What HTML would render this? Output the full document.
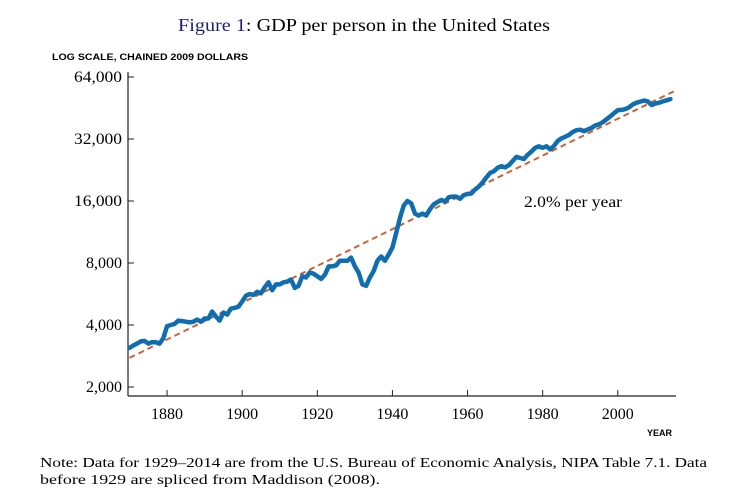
<!DOCTYPE html>
<html><head><meta charset="utf-8"><style>
body{margin:0;background:#fff;width:742px;height:497px;overflow:hidden;font-family:"Liberation Serif",serif}
svg{position:absolute;left:0;top:0}
</style></head><body>
<svg width="742" height="497" id="chart">
<text x="178" y="31" textLength="372" lengthAdjust="spacingAndGlyphs" font-size="18" font-family="Liberation Serif"><tspan fill="#1f1f6e">Figure 1</tspan>: GDP per person in the United States</text>
<text x="52" y="60" textLength="196" lengthAdjust="spacingAndGlyphs" font-size="9.5" font-weight="bold" font-family="Liberation Sans">LOG SCALE, CHAINED 2009 DOLLARS</text>
<text x="672" y="436" text-anchor="end" font-size="9" font-weight="bold" font-family="Liberation Sans">YEAR</text>
<text x="524" y="207" textLength="98" lengthAdjust="spacingAndGlyphs" font-size="16">2.0% per year</text>
<text x="40" y="467" textLength="667" lengthAdjust="spacingAndGlyphs" font-size="14">Note:  Data for 1929–2014 are from the U.S. Bureau of Economic Analysis, NIPA Table 7.1.  Data</text>
<text x="40" y="484" textLength="340" lengthAdjust="spacingAndGlyphs" font-size="14">before 1929 are spliced from Maddison (2008).</text>
<g id="axes"></g><g id="marks"></g>
</svg>
<script>
const yTicks=[2000,4000,8000,16000,32000,64000];
const yTickLabels=["2,000","4,000","8,000","16,000","32,000","64,000"];
const xTicks=[1880,1900,1920,1940,1960,1980,2000];
const years=[];for(let y=1870;y<=2014;y++)years.push(y);
const gdp=[3100,3180,3250,3330,3350,3250,3300,3300,3250,3450,3950,4000,4050,4200,4180,4150,4120,4150,4250,4150,4300,4300,4650,4400,4200,4600,4500,4800,4850,4900,5200,5550,5650,5600,5800,5700,6100,6450,5900,6300,6300,6450,6500,6650,6050,6200,6900,6800,7200,7100,6900,6700,7000,7700,7700,7800,8200,8200,8200,8500,7700,7200,6300,6200,6800,7300,8200,8600,8200,8800,9500,11200,13200,15200,16000,15600,13900,13600,13900,13600,14600,15400,15800,16200,15900,16700,16800,16800,16400,17100,17300,17400,18200,18800,19700,20800,21900,22300,23200,23600,23300,23900,25000,26200,25900,25600,26800,27800,29000,29500,29000,29500,28500,29600,31300,32200,32800,33500,34600,35300,35500,34900,35600,36200,37200,37700,38600,39900,41200,42700,44200,44300,44700,45600,47100,48000,48600,49200,48700,46800,47600,48000,48700,49300,50000];
const trendYears=[1870,2015];
const trendValues=[2770,54600];
const X=y=>128+(y-1869.6)*3.756;
const Y=v=>387-62*Math.log2(v/2000);
const ns="http://www.w3.org/2000/svg";
const ax=document.getElementById('axes'),mk=document.getElementById('marks');
function el(t,a,p){const e=document.createElementNS(ns,t);for(const k in a)e.setAttribute(k,a[k]);p.appendChild(e);return e;}
const yl=el('line',{x1:128,y1:72,x2:128,y2:396,stroke:'#222','stroke-width':1.2},ax);


const xl=el('line',{x1:128,y1:396,x2:676,y2:396,stroke:'#222','stroke-width':1.2},ax);


yTicks.forEach((v,i)=>{
 const t=el('line',{x1:128,x2:134,y1:Y(v),y2:Y(v),stroke:'#222'},ax);
 
 
 const tx=el('text',{x:122,y:Y(v)+5,'text-anchor':'end','font-size':16},ax);
 tx.textContent=yTickLabels[i];
 if(yTickLabels[i].length===6){tx.setAttribute('textLength',48);tx.setAttribute('lengthAdjust','spacingAndGlyphs');}
 
 
});
xTicks.forEach(v=>{
 const t=el('line',{x1:X(v),x2:X(v),y1:390,y2:396,stroke:'#222'},ax);
 
 
 const tx=el('text',{x:X(v),y:419,'text-anchor':'middle','font-size':16},ax);
 tx.textContent=v;
 
 
});
const tr=el('line',{x1:X(trendYears[0]),y1:Y(trendValues[0]),x2:X(trendYears[1]),y2:Y(trendValues[1]),stroke:'#c8643a','stroke-width':2,'stroke-dasharray':'6,4'},mk);


const p=el('polyline',{points:years.map((y,i)=>X(y).toFixed(1)+','+Y(gdp[i]).toFixed(1)).join(' '),fill:'none',stroke:'#0f6db0','stroke-width':4.5,'stroke-linejoin':'round','stroke-linecap':'round'},mk);


</script>
</body></html>
